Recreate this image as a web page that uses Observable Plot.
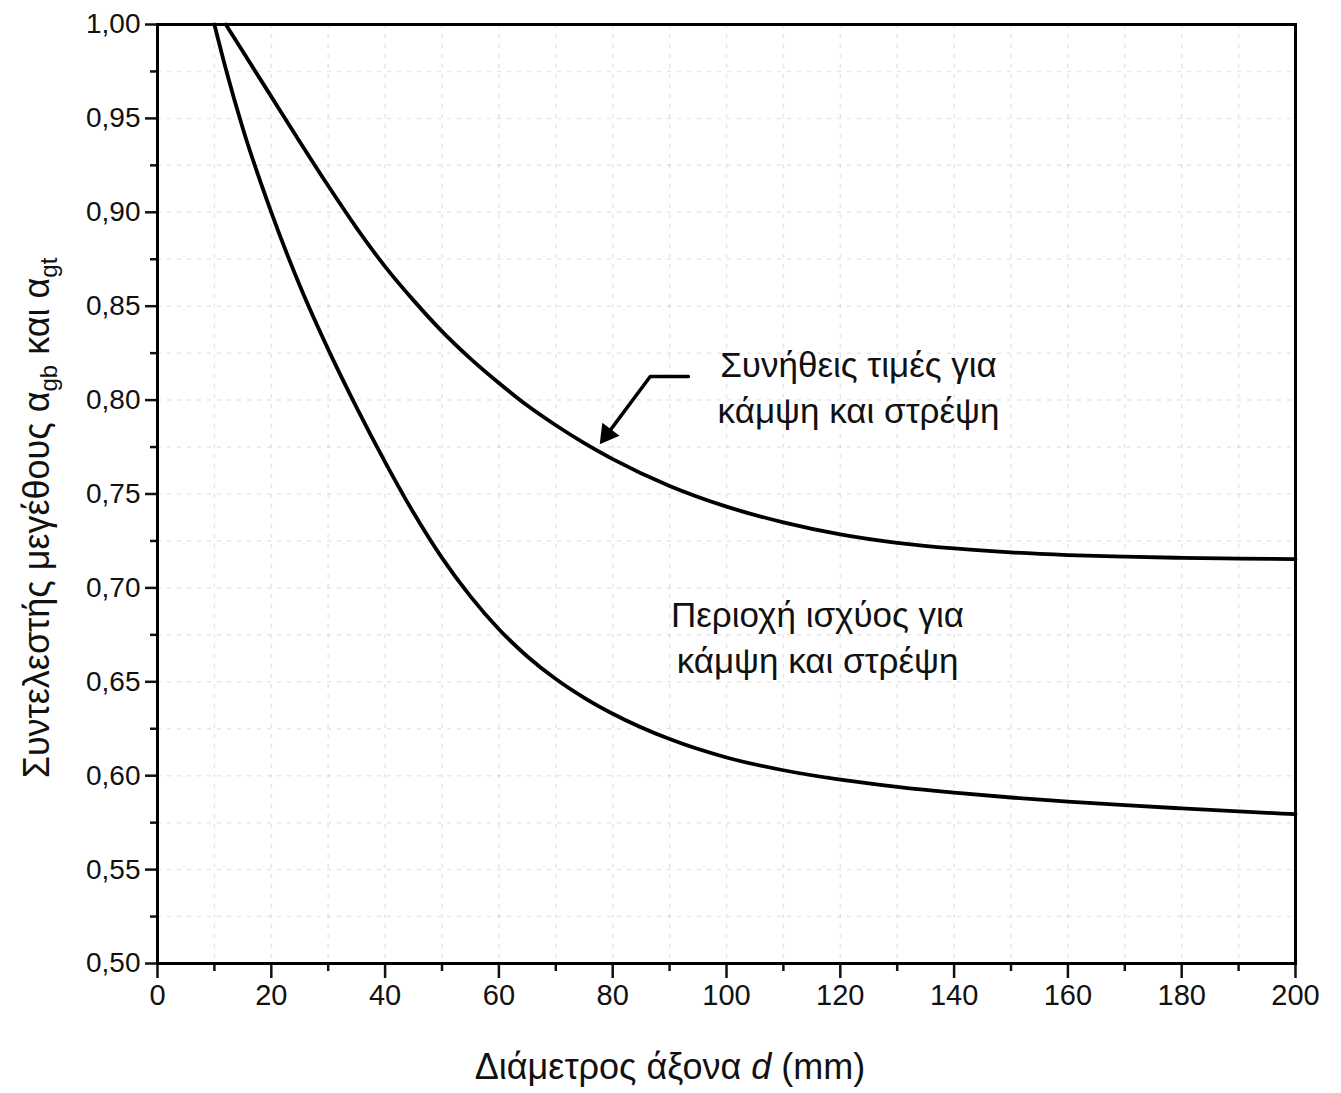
<!DOCTYPE html>
<html><head><meta charset="utf-8">
<script src="https://cdn.jsdelivr.net/npm/d3@7"></script>
<script src="https://cdn.jsdelivr.net/npm/@observablehq/plot@0.6"></script>
<style>
body{margin:0;background:#fff;}
#chart svg{display:block;}
</style></head><body><div id="chart"></div>
<script>
// Upper curve: "Συνήθεις τιμές για κάμψη και στρέψη"
const upperD = [12, 15, 20, 25, 30, 35, 40, 45, 50, 55, 60, 65, 70, 75, 80, 90, 100, 110, 120, 130, 140, 150, 160, 170, 180, 190, 200];
const upperA = [1.000, 0.9856, 0.9616, 0.9376, 0.9141, 0.8916, 0.8711, 0.8531, 0.8366, 0.8221, 0.8091, 0.7971, 0.7866, 0.7771, 0.7686, 0.7543, 0.7433, 0.7349, 0.7285, 0.7240, 0.7210, 0.7189, 0.7175, 0.7166, 0.7160, 0.7156, 0.7153];
// Lower curve: "Περιοχή ισχύος για κάμψη και στρέψη"
const lowerD = [10, 12, 15, 20, 25, 30, 35, 40, 45, 50, 55, 60, 65, 70, 75, 80, 90, 100, 110, 120, 130, 140, 150, 160, 170, 180, 190, 200];
const lowerA = [1.000, 0.9764, 0.9446, 0.900, 0.861, 0.827, 0.796, 0.767, 0.740, 0.716, 0.6955, 0.678, 0.6635, 0.6515, 0.6415, 0.633, 0.6195, 0.6097, 0.6029, 0.5979, 0.5941, 0.5910, 0.5884, 0.5862, 0.5843, 0.5826, 0.5810, 0.5795];

const xMajorTicks = [0, 20, 40, 60, 80, 100, 120, 140, 160, 180, 200];
const xMinorTicks = [10, 30, 50, 70, 90, 110, 130, 150, 170, 190];
const yMajorTicks = [0.50, 0.55, 0.60, 0.65, 0.70, 0.75, 0.80, 0.85, 0.90, 0.95, 1.00];
const yMinorTicks = [0.525, 0.575, 0.625, 0.675, 0.725, 0.775, 0.825, 0.875, 0.925, 0.975];
const gridX = [10, 20, 30, 40, 50, 60, 70, 80, 90, 100, 110, 120, 130, 140, 150, 160, 170, 180, 190];
const gridY = [0.525, 0.55, 0.575, 0.60, 0.625, 0.65, 0.675, 0.70, 0.725, 0.75, 0.775, 0.80, 0.825, 0.85, 0.875, 0.90, 0.925, 0.95, 0.975];

const note1Text = "Συνήθεις τιμές για\nκάμψη και στρέψη";
const note1At = [123.2, 0.8078];
const note2Text = "Περιοχή ισχύος για\nκάμψη και στρέψη";
const note2At = [116.0, 0.6747];
// leader: horizontal stub then slanted line ending in an arrow head on the upper curve
const leaderD = [93.3, 86.6, 78.6];
const leaderA = [0.8126, 0.8126, 0.7800];
const arrowTip = [77.9, 0.7772];

const xLabel = ["Διάμετρος άξονα ", "d", " (mm)"];
const yLabel = ["Συντελεστής μεγέθους α", "gb", " και α", "gt"];

const upper = upperD.map((d, i) => ({d, a: upperA[i]}));
const lower = lowerD.map((d, i) => ({d, a: lowerA[i]}));
const leader = leaderD.map((d, i) => ({d, a: leaderA[i]}));
// arrow head sits just behind the tip, along the slanted leader
const headAt = [arrowTip[0] + 0.13 * (leaderD[1] - arrowTip[0]), arrowTip[1] + 0.13 * (leaderA[1] - arrowTip[1])];
const fmt = v => d3.format(".2f")(v).replace(".", ",");
const FONT = "'Liberation Sans', Arial, sans-serif";

const chart = Plot.plot({
  width: 1341, height: 1093,
  marginLeft: 157, marginRight: 46, marginTop: 24, marginBottom: 130,
  x: {domain: [0, 200]},
  y: {domain: [0.5, 1.0]},
  style: {fontFamily: FONT, fontSize: "28px", color: "#111", background: "#fff"},
  marks: [
    Plot.ruleX(gridX, {stroke: "#888", strokeOpacity: 0.2, strokeDasharray: "4,6", strokeWidth: 1.5}),
    Plot.ruleY(gridY, {stroke: "#888", strokeOpacity: 0.2, strokeDasharray: "4,6", strokeWidth: 1.5}),
    Plot.axisX(xMajorTicks, {tickSize: 15, tickPadding: 6, strokeWidth: 2.5, fontSize: 29, label: null, tickFormat: d => String(d)}),
    Plot.axisX(xMinorTicks, {tickSize: 8, strokeWidth: 2.5, label: null, tickFormat: () => ""}),
    Plot.axisY(yMajorTicks, {tickSize: 12, tickPadding: 5, strokeWidth: 2.5, fontSize: 28, label: null, tickFormat: fmt}),
    Plot.axisY(yMinorTicks, {tickSize: 7, strokeWidth: 2.5, label: null, tickFormat: () => ""}),
    Plot.line(upper, {x: "d", y: "a", curve: "monotone-x", stroke: "#000", strokeWidth: 3.8}),
    Plot.line(lower, {x: "d", y: "a", curve: "monotone-x", stroke: "#000", strokeWidth: 3.8}),
    Plot.line(leader, {x: "d", y: "a", stroke: "#000", strokeWidth: 3.5}),
    Plot.dot([0], {x: () => headAt[0], y: () => headAt[1], symbol: "triangle", fill: "#000", stroke: "none", r: 8, rotate: 217}),
    Plot.text([note1Text], {x: note1At[0], y: note1At[1], text: d => d, fontSize: 35, lineHeight: 1.3, textAnchor: "middle", fill: "#111"}),
    Plot.text([note2Text], {x: note2At[0], y: note2At[1], text: d => d, fontSize: 35, lineHeight: 1.3, textAnchor: "middle", fill: "#111"}),
    Plot.frame({stroke: "#000", strokeWidth: 3})
  ]
});
document.getElementById("chart").appendChild(chart);

const svg = d3.select(chart);
// x axis title
const xt = svg.append("text")
  .attr("x", 670).attr("y", 1079)
  .attr("text-anchor", "middle")
  .style("font-family", FONT).style("font-size", "36px").attr("fill", "#111");
xt.append("tspan").text(xLabel[0]);
xt.append("tspan").style("font-style", "italic").text(xLabel[1]);
xt.append("tspan").text(xLabel[2]);
// y axis title with subscripts
const yt = svg.append("text")
  .attr("transform", "translate(49,518) rotate(-90)")
  .attr("text-anchor", "middle")
  .style("font-family", FONT).style("font-size", "36px").attr("fill", "#111");
yt.append("tspan").text(yLabel[0]);
yt.append("tspan").attr("dy", 8).style("font-size", "24px").text(yLabel[1]);
yt.append("tspan").attr("dy", -8).text(yLabel[2]);
yt.append("tspan").attr("dy", 8).style("font-size", "24px").text(yLabel[3]);
</script>
</body></html>
